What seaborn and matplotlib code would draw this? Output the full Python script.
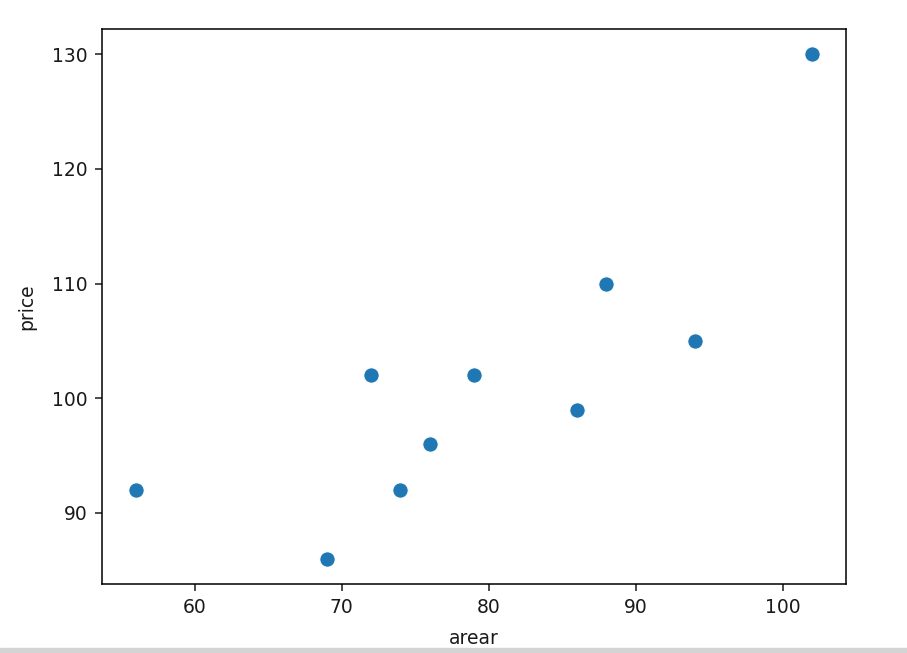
# scatter of price against area
import pandas as pd
import seaborn as sns
import matplotlib.pyplot as plt

# data
arear = [56, 69, 72, 74, 76, 79, 86, 88, 94, 102]
price = [92, 86, 102, 92, 96, 102, 99, 110, 105, 130]

df = pd.DataFrame({"arear": arear, "price": price})

plt.rcParams["font.family"] = ["DejaVu Sans"]
plt.rcParams["font.size"] = 13.5

W, H = 907, 653
fig = plt.figure(figsize=(W / 100, H / 100), dpi=100)
ax = fig.add_axes([102 / W, (H - 584) / H, (846 - 102) / W, (584 - 29) / H])

sns.scatterplot(data=df, x="arear", y="price", ax=ax, color="#1f77b4",
                s=120, edgecolor="white", linewidth=0.6)

ax.set_xticks([60, 70, 80, 90, 100])
ax.set_yticks([90, 100, 110, 120, 130])
ax.tick_params(length=5, width=1.1, pad=5, labelsize=13.5, colors="#1a1a1a")
for s in ax.spines.values():
    s.set_linewidth(1.1)
ax.set_xlabel("arear", fontsize=13.5, labelpad=8.5, color="#1a1a1a")
ax.set_ylabel("price", fontsize=13.5, labelpad=11.5, color="#1a1a1a")

# light gray band at the bottom of the screenshot
fig.patches.append(plt.Rectangle((0, 0), 1, 5 / H, transform=fig.transFigure,
                                 color="#d4d4d4", zorder=0))

fig.savefig("out.png", dpi=100)
